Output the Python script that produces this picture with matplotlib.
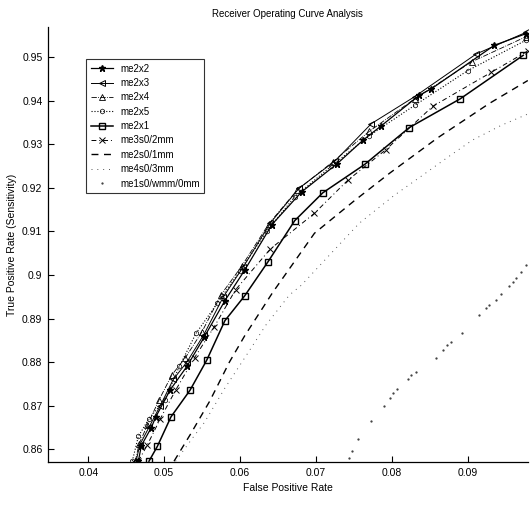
import matplotlib
matplotlib.use("Agg")
import matplotlib.pyplot as plt

plt.rcParams['font.family'] = ['Liberation Sans', 'DejaVu Sans']

title = "Receiver Operating Curve Analysis"
xlabel = "False Positive Rate"
ylabel = "True Positive Rate (Sensitivity)"

xticks = [0.04, 0.05, 0.06, 0.07, 0.08, 0.09]
xtick_labels = ["0.04", "0.05", "0.06", "0.07", "0.08", "0.09"]
yticks = [0.86, 0.87, 0.88, 0.89, 0.90, 0.91, 0.92, 0.93, 0.94, 0.95]
ytick_labels = ["0.86", "0.87", "0.88", "0.89", "0.9", "0.91", "0.92", "0.93", "0.94", "0.95"]

me2x2_x = [0.0466, 0.0470, 0.0483, 0.0489, 0.0508, 0.0530, 0.0553, 0.0580, 0.0606, 0.0642, 0.0681, 0.0728, 0.0762, 0.0786, 0.0836, 0.0852, 0.0935, 0.0977]
me2x2_y = [0.8572, 0.8608, 0.8649, 0.8674, 0.8736, 0.8790, 0.8858, 0.8941, 0.9011, 0.9116, 0.9191, 0.9256, 0.9310, 0.9343, 0.9413, 0.9428, 0.9528, 0.9555]

me2x3_x = [0.0463, 0.0468, 0.0480, 0.0495, 0.0512, 0.0530, 0.0552, 0.0578, 0.0604, 0.0640, 0.0678, 0.0725, 0.0773, 0.0830, 0.0911, 0.0977]
me2x3_y = [0.8572, 0.8610, 0.8650, 0.8700, 0.8760, 0.8800, 0.8862, 0.8950, 0.9018, 0.9120, 0.9200, 0.9262, 0.9348, 0.9410, 0.9508, 0.9558]

me2x4_x = [0.0462, 0.0467, 0.0478, 0.0493, 0.0510, 0.0528, 0.0550, 0.0575, 0.0602, 0.0638, 0.0675, 0.0722, 0.0770, 0.0830, 0.0905, 0.0977]
me2x4_y = [0.8572, 0.8612, 0.8655, 0.8712, 0.8770, 0.8810, 0.8870, 0.8955, 0.9020, 0.9118, 0.9195, 0.9260, 0.9330, 0.9405, 0.9490, 0.9548]

me2x5_x = [0.0458, 0.0466, 0.0480, 0.0501, 0.0520, 0.0542, 0.0570, 0.0600, 0.0635, 0.0672, 0.0720, 0.0770, 0.0830, 0.0900, 0.0977]
me2x5_y = [0.8572, 0.8629, 0.8670, 0.8713, 0.8790, 0.8866, 0.8935, 0.9010, 0.9100, 0.9180, 0.9250, 0.9320, 0.9390, 0.9470, 0.9540]

me2x1_x = [0.0480, 0.0491, 0.0509, 0.0534, 0.0556, 0.0580, 0.0606, 0.0637, 0.0672, 0.0709, 0.0764, 0.0823, 0.0890, 0.0973]
me2x1_y = [0.8572, 0.8606, 0.8674, 0.8735, 0.8804, 0.8895, 0.8952, 0.9031, 0.9125, 0.9189, 0.9254, 0.9339, 0.9405, 0.9505]

me3s0_x = [0.0466, 0.0478, 0.0495, 0.0515, 0.0540, 0.0566, 0.0594, 0.0640, 0.0698, 0.0742, 0.0792, 0.0854, 0.0931, 0.0979]
me3s0_y = [0.8572, 0.8610, 0.8670, 0.8735, 0.8810, 0.8881, 0.8966, 0.9060, 0.9142, 0.9218, 0.9288, 0.9388, 0.9466, 0.9515]

me2s0_x = [0.0513, 0.0535, 0.0560, 0.0586, 0.0606, 0.0643, 0.0698, 0.0750, 0.0797, 0.0860, 0.0928, 0.0979]
me2s0_y = [0.8572, 0.8635, 0.8710, 0.8800, 0.8860, 0.8960, 0.9096, 0.9170, 0.9234, 0.9315, 0.9394, 0.9447]

me4s0_x = [0.0515, 0.0539, 0.0553, 0.0580, 0.0610, 0.0634, 0.0665, 0.0681, 0.0720, 0.0757, 0.0803, 0.0837, 0.0873, 0.0906, 0.0944, 0.0979]
me4s0_y = [0.8572, 0.8629, 0.8661, 0.8740, 0.8820, 0.8885, 0.8954, 0.8977, 0.9050, 0.9119, 0.9183, 0.9225, 0.9270, 0.9310, 0.9344, 0.9370]

me1s0_x = [0.0743, 0.0748, 0.0755, 0.0773, 0.0789, 0.0797, 0.0801, 0.0807, 0.0821, 0.0825, 0.0832, 0.0858, 0.0867, 0.0873, 0.0878, 0.0892, 0.0915, 0.0924, 0.0928, 0.0937, 0.0944, 0.0954, 0.0959, 0.0963, 0.0970, 0.0976]
me1s0_y = [0.8580, 0.8595, 0.8624, 0.8664, 0.8700, 0.8717, 0.8729, 0.8739, 0.8761, 0.8771, 0.8778, 0.8810, 0.8828, 0.8839, 0.8847, 0.8866, 0.8908, 0.8924, 0.8931, 0.8943, 0.8956, 0.8975, 0.8983, 0.8992, 0.9008, 0.9022]

fig = plt.figure(figsize=(5.31, 5.05), dpi=100)
ax = fig.add_axes([0.0904, 0.085, 0.9036, 0.8615])

ax.plot(me2x2_x, me2x2_y, '-', color='black', lw=0.9, marker='*', ms=4.5, label='me2x2')
ax.plot(me2x3_x, me2x3_y, '-', color='black', lw=0.7, marker='<', ms=4, mfc='none', mew=0.7, label='me2x3')
ax.plot(me2x4_x, me2x4_y, '-.', color='black', lw=0.6, marker='^', ms=4, mfc='none', mew=0.6, label='me2x4')
ax.plot(me2x5_x, me2x5_y, ':', color='black', lw=0.8, marker='h', ms=3.5, mfc='none', mew=0.5, label='me2x5')
ax.plot(me2x1_x, me2x1_y, '-', color='black', lw=1.1, marker='s', ms=4.5, mfc='none', mew=1.0, label='me2x1')
ax.plot(me3s0_x, me3s0_y, linestyle=(0, (5, 3, 1, 3)), color='black', lw=0.7, marker='x', ms=4, mew=0.7, label='me3s0/2mm')
ax.plot(me2s0_x, me2s0_y, linestyle=(0, (5, 4)), color='black', lw=1.0, label='me2s0/1mm')
ax.plot(me4s0_x, me4s0_y, linestyle=(0, (1, 5)), color='#555555', lw=0.7, label='me4s0/3mm')
ax.plot(me1s0_x, me1s0_y, linestyle='none', color='#333333', marker='.', ms=1.2, label='me1s0/wmm/0mm')

ax.set_xlim(0.0347, 0.0979)
ax.set_ylim(0.857, 0.957)
ax.set_xticks(xticks)
ax.set_xticklabels(xtick_labels)
ax.set_yticks(yticks)
ax.set_yticklabels(ytick_labels)
ax.tick_params(direction='in', length=4, width=0.8, labelsize=7.5, pad=4)
for s in ['top', 'right']:
    ax.spines[s].set_visible(False)
for s in ['left', 'bottom']:
    ax.spines[s].set_linewidth(0.9)

ax.set_title(title, fontsize=7, pad=7.5)
ax.set_xlabel(xlabel, fontsize=7.5, labelpad=4)
ax.set_ylabel(ylabel, fontsize=7.5, labelpad=4)

leg = ax.legend(loc='upper left', bbox_to_anchor=(0.08, 0.926), fontsize=7, frameon=True,
                fancybox=False, edgecolor='black', handlelength=2.3, handletextpad=0.7,
                borderpad=0.45, labelspacing=0.45, borderaxespad=0)
leg.get_frame().set_linewidth(0.8)

fig.savefig('out.png', dpi=100)
